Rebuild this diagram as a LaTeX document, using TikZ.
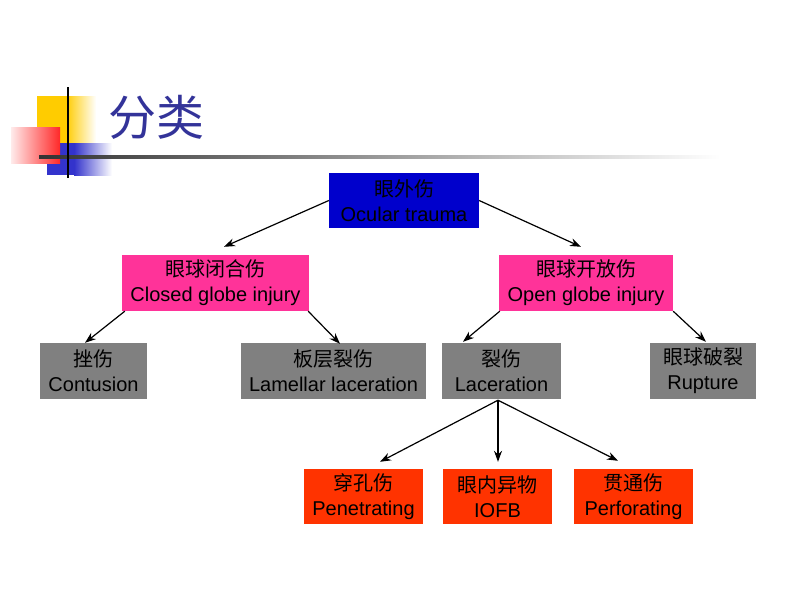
\documentclass[tikz,border=0pt]{standalone}
\usepackage{fontspec}
\setmainfont{Liberation Sans}
\newfontfamily\cjk{Noto Sans CJK SC}
\usetikzlibrary{arrows.meta,calc}
\definecolor{topblue}{RGB}{0,0,204}
\definecolor{pinkc}{RGB}{255,51,153}
\definecolor{grayc}{RGB}{128,128,128}
\definecolor{orangec}{RGB}{255,51,0}
\definecolor{titleblue}{RGB}{51,51,153}
\definecolor{yellowc}{RGB}{255,204,0}
\definecolor{sqblue}{RGB}{51,51,204}
\definecolor{sqred}{RGB}{255,40,40}
\begin{document}
\begin{tikzpicture}[x=1pt,y=-1pt,
  box/.style={draw=none,inner sep=0pt,align=center,text=black,
    font=\fontsize{20}{25}\selectfont},
  arr/.style={-{Stealth[length=11pt,width=8pt]},line width=1.2pt,black}]
\useasboundingbox[fill=white] (0,0) rectangle (800,600);
% title decoration
\fill[yellowc] (37,96) rectangle (66,143);
\shade[left color=yellowc,right color=white] (66,96) rectangle (96,143);
\fill[sqblue] (47,143) rectangle (74,175);
\shade[left color=sqblue,right color=white] (74,143) rectangle (112,175);
\shade[left color=red!8,right color=sqred] (11,127) rectangle (60,163);
\shade[left color=black!80,right color=white] (39,155.5) rectangle (720,158.5);
\draw[line width=2pt] (68,87) -- (68,178);
\node[font=\cjk\fontsize{48}{48}\selectfont,text=titleblue,anchor=west,inner sep=0pt] (title) at (108,117) {分类};
% nodes
\node[box,fill=topblue,minimum width=150pt,minimum height=55pt] (top) at (404,200.5) {{\cjk 眼外伤}\\Ocular trauma};
\node[box,fill=pinkc,minimum width=187pt,minimum height=56pt] (closed) at (215.5,283) {{\cjk 眼球闭合伤}\\Closed globe injury};
\node[box,fill=pinkc,minimum width=174pt,minimum height=56pt] (open) at (586,283) {{\cjk 眼球开放伤}\\Open globe injury};
\node[box,fill=grayc,minimum width=107pt,minimum height=56pt] (contusion) at (93.5,371) {{\cjk 挫伤}\\Contusion};
\node[box,fill=grayc,minimum width=185pt,minimum height=56pt] (lamellar) at (333.5,371) {{\cjk 板层裂伤}\\Lamellar laceration};
\node[box,fill=grayc,minimum width=119pt,minimum height=56pt] (lacer) at (501.5,371) {{\cjk 裂伤}\\Laceration};
\node[box,fill=grayc,minimum width=106pt,minimum height=56pt] (rupture) at (703,371) {{\cjk 眼球破裂}\\Rupture};
\node[box,fill=orangec,minimum width=119pt,minimum height=55pt] (pen) at (363.5,496.5) {{\cjk 穿孔伤}\\Penetrating};
\node[box,fill=orangec,minimum width=109pt,minimum height=55pt] (iofb) at (497.5,496.5) {{\cjk 眼内异物}\\IOFB};
\node[box,fill=orangec,minimum width=119pt,minimum height=55pt] (perf) at (633.5,496.5) {{\cjk 贯通伤}\\Perforating};
% connectors
\draw[arr] (top.west) -- ($(closed.north)+(8.5,-8)$);
\draw[arr] (top.east) -- ($(open.north)+(-5,-8)$);
\draw[arr] ($(closed.south west)+(3,0)$) -- ($(contusion.north)+(-8.5,0)$);
\draw[arr] ($(closed.south east)+(-1,0)$) -- ($(lamellar.north)+(6.5,1)$);
\draw[arr] ($(open.south west)+(1,0)$) -- ($(lacer.north)+(-38.5,-1)$);
\draw[arr] ($(open.south east)+(0,0)$) -- ($(rupture.north)+(3,-1)$);
\draw[arr] ($(lacer.south)+(-3.5,1)$) -- ($(pen.north)+(16.5,-7)$);
\draw[arr] ($(lacer.south)+(-3.5,1)$) -- ($(iofb.north)+(0.5,-7)$);
\draw[arr] ($(lacer.south)+(-3.5,1)$) -- ($(perf.north)+(-15.5,-8)$);
\end{tikzpicture}
\end{document}
